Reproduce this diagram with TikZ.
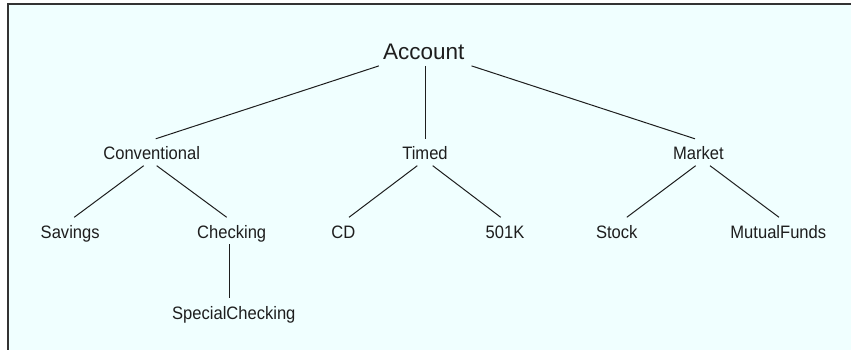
\documentclass[tikz,border=0pt]{standalone}
\usepackage{fontspec}
\setmainfont{Liberation Sans}
\newfontfamily\lblfont{Liberation Sans}[FakeStretch=0.92]
\definecolor{bg}{HTML}{F0FFFF}
\definecolor{ink}{HTML}{1E1E1E}
\definecolor{frame}{HTML}{333333}
\begin{document}
\begin{tikzpicture}[x=1pt,y=-1pt,
  lbl/.style={font=\lblfont\fontsize{18}{20}\selectfont, text=ink, anchor=base,
    inner xsep=0pt, inner ysep=2pt, text height=19pt, text depth=3.5pt},
  topnode/.style={font=\fontsize{22.5}{26}\selectfont, text=ink, anchor=base,
    inner xsep=4pt, inner ysep=2pt, text depth=4.4pt},
  edge/.style={draw=ink, line width=1pt}]
\useasboundingbox (0,0) rectangle (851,350);
\clip (0,0) rectangle (851,350);
\fill[white] (0,0) rectangle (851,350);
\draw[fill=bg, draw=frame, line width=1.6pt] (8.2,4.2) rectangle (870,370);
\node[topnode] (acc) at (423.7,59.3) {Account};
\node[lbl] (conv) at (151.7,160) {Conventional};
\node[lbl] (timed) at (425,160) {Timed};
\node[lbl] (mkt) at (698.3,160) {Market};
\node[lbl] (sav) at (70.2,238.5) {Savings};
\node[lbl] (chk) at (231.7,238.5) {Checking};
\node[lbl] (cd) at (343.3,238.5) {CD};
\node[lbl] (k501) at (505,238.5) {501K};
\node[lbl] (stk) at (616.8,238.5) {Stock};
\node[lbl] (mf) at (778.3,238.5) {MutualFunds};
\node[lbl] (spc) at (233.8,319) {SpecialChecking};
\draw[edge] (acc.south west) -- ([xshift=4pt]conv.north);
\draw[edge] (acc.south -| timed.north) -- (timed.north);
\draw[edge] ([xshift=3pt]acc.south east) -- ([xshift=-3.3pt]mkt.north);
\draw[edge] ([xshift=-8pt]conv.south) -- ([xshift=4pt]sav.north);
\draw[edge] ([xshift=5pt]conv.south) -- ([xshift=-5pt]chk.north);
\draw[edge] ([xshift=-2.7pt]chk.south) -- ([xshift=-2.7pt]chk.south |- spc.north);
\draw[edge] ([xshift=-7.7pt]timed.south) -- ([xshift=5.7pt]cd.north);
\draw[edge] ([xshift=7.7pt]timed.south) -- ([xshift=-4.3pt]k501.north);
\draw[edge] ([xshift=-2.6pt]mkt.south) -- ([xshift=10pt]stk.north);
\draw[edge] ([xshift=11.7pt]mkt.south) -- ([xshift=0.7pt]mf.north);
\end{tikzpicture}
\end{document}
